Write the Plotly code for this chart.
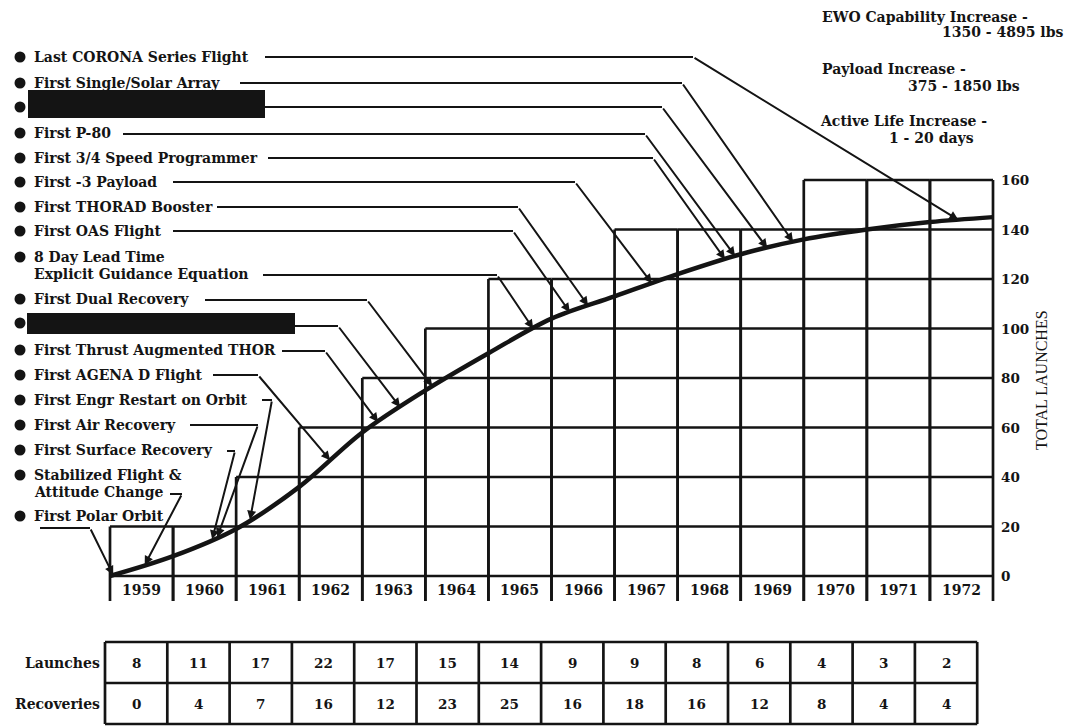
import numpy as np
import plotly.graph_objects as go

# ---------------- data ----------------
years = [1959, 1960, 1961, 1962, 1963, 1964, 1965, 1966, 1967, 1968, 1969, 1970, 1971, 1972]
launches = [8, 11, 17, 22, 17, 15, 14, 9, 9, 8, 6, 4, 3, 2]
recoveries = [0, 4, 7, 16, 12, 23, 25, 16, 18, 16, 12, 8, 4, 4]
column_tops = [20, 20, 40, 60, 80, 100, 120, 120, 140, 140, 140, 160, 160, 160]
y_ticks = [0, 20, 40, 60, 80, 100, 120, 140, 160]

event_labels = [
    ["Last CORONA Series Flight"],
    ["First Single/Solar Array"],
    None,  # redacted
    ["First P-80"],
    ["First 3/4 Speed Programmer"],
    ["First -3 Payload"],
    ["First THORAD Booster"],
    ["First OAS Flight"],
    ["8 Day Lead Time", "Explicit Guidance Equation"],
    ["First Dual Recovery"],
    None,  # redacted
    ["First Thrust Augmented THOR"],
    ["First AGENA D Flight"],
    ["First Engr Restart on Orbit"],
    ["First Air Recovery"],
    ["First Surface Recovery"],
    ["Stabilized Flight &", "Attitude Change"],
    ["First Polar Orbit"],
]
event_time = [1972.45, 1969.83, 1969.42, 1968.91, 1968.75, 1967.59, 1966.58, 1966.29,
              1965.71, 1964.11, 1963.60, 1963.25, 1962.49, 1961.22, 1960.70, 1960.62,
              1959.55, 1959.05]

side_notes = [
    ("EWO Capability Increase -", "1350 - 4895 lbs"),
    ("Payload Increase -", "375 - 1850 lbs"),
    ("Active Life Increase -", "1 - 20 days"),
]

# ---------------- layout helpers (pixel -> axis units) ----------------
W, H = 1073, 726
OFF = 8                      # page body margin of the html page
PX0, PX1 = 110, 993          # x of column 0 start / last column end
PY0, PY160 = 576, 180        # y of value 0 / value 160
U = (PX1 - PX0) / len(years)
V = (PY0 - PY160) / 160.0


def X(px):
    return (px - PX0) / U


def Y(py):
    return (PY0 - py) / V


INK = "#141414"
FONT_B = dict(family="DejaVu Serif", size=14, color=INK, weight="bold")
FONT_N = dict(family="DejaVu Serif", size=13.5, color=INK, weight="bold")

fig = go.Figure()

# ---------------- grid boxes ----------------
gx, gy = [], []
ybot = Y(601)
for i, top in enumerate(column_tops):
    for lvl in range(0, top + 1, 20):
        gx += [i, i + 1, None]
        gy += [lvl, lvl, None]
    gx += [i, i, None, i + 1, i + 1, None]
    gy += [ybot, top, None, ybot, top, None]
fig.add_trace(go.Scatter(x=gx, y=gy, mode="lines", line=dict(color=INK, width=2.7),
                         hoverinfo="skip", showlegend=False))

# ---------------- cumulative launches curve ----------------
cum = np.concatenate([[0], np.cumsum(launches)])
cx = np.arange(len(cum))
fig.add_trace(go.Scatter(x=cx, y=cum, mode="lines",
                         line=dict(color=INK, width=4.5, shape="spline", smoothing=1.0),
                         hoverinfo="skip", showlegend=False))

# ---------------- labels, bullets, leader lines ----------------
label_y = [57, 83, 107, 133, 158, 182, 207, 231, 257, 299, 323, 350, 375, 400, 425, 450, 475, 516]
leaders = [  # (start px, line y px, bend px)
    (265, 57, 693), (240, 83, 682), (265, 107, 662), (123, 134, 645), (268, 158, 653),
    (173, 182, 575), (217, 207, 518), (173, 231, 513), (263, 275, 497), (205, 300, 367),
    (295, 326, 338), (282, 351, 325), (213, 375, 258), (262, 400, 272), (190, 425, 258),
    (227, 451, 235), (170, 494, 182), (40, 528, 90),
]
redact_boxes = {2: (28, 90, 265, 118), 10: (27, 313, 295, 334)}

bx, by = [], []
lx, ly = [], []
for k, lab in enumerate(event_labels):
    yc = label_y[k]
    bx.append(X(20))
    by.append(Y(yc))
    if lab is not None:
        for j, line in enumerate(lab):
            fig.add_annotation(x=X(32), y=Y(yc + 17 * j), text=line, showarrow=False,
                               xanchor="left", yanchor="middle", font=FONT_B)
    s, ly_px, b = leaders[k]
    tx = event_time[k] - years[0]
    ty = float(np.interp(tx, cx, cum))
    lx += [X(s), X(b), None]
    ly += [Y(ly_px), Y(ly_px), None]
    fig.add_annotation(x=tx, y=ty, ax=X(b), ay=Y(ly_px), axref="x", ayref="y",
                       xref="x", yref="y", text="", showarrow=True, arrowhead=2,
                       arrowsize=0.9, arrowwidth=2, arrowcolor=INK, standoff=0)

fig.add_trace(go.Scatter(x=lx, y=ly, mode="lines", line=dict(color=INK, width=2),
                         hoverinfo="skip", showlegend=False))
fig.add_trace(go.Scatter(x=bx, y=by, mode="markers",
                         marker=dict(color=INK, size=11, symbol="circle"),
                         hoverinfo="skip", showlegend=False))

for k, (x0, y0, x1, y1) in redact_boxes.items():
    fig.add_shape(type="rect", x0=X(x0), x1=X(x1), y0=Y(y0), y1=Y(y1),
                  fillcolor=INK, line=dict(width=0), layer="above")

# ---------------- year labels & value ticks ----------------
for i, yr in enumerate(years):
    fig.add_annotation(x=i + 0.5, y=Y(590), text=str(yr), showarrow=False,
                       xanchor="center", yanchor="middle", font=FONT_B)
for v in y_ticks:
    fig.add_annotation(x=X(999), y=v, text=str(v), showarrow=False,
                       xanchor="left", yanchor="middle", font=FONT_N)
fig.add_annotation(x=X(1041), y=Y(380), text="TOTAL LAUNCHES", textangle=-90,
                   showarrow=False, xanchor="center", yanchor="middle",
                   font=dict(family="Liberation Serif", size=16, color=INK))

# ---------------- side notes ----------------
note_pos = [((820, 17), (940, 32)), ((820, 69), (906, 86)), ((818, 121), (887, 138))]
for (a, b), ((ax0, ay0), (bx0, by0)) in zip(side_notes, note_pos):
    fig.add_annotation(x=X(ax0), y=Y(ay0), text=a, showarrow=False, xanchor="left",
                       yanchor="middle", font=FONT_B)
    fig.add_annotation(x=X(bx0), y=Y(by0), text=b, showarrow=False, xanchor="left",
                       yanchor="middle", font=FONT_B)

# ---------------- table ----------------
T_LEFT, T_COL = 105, 62.3
T_TOP, T_MID, T_BOT = 642, 683, 724
ncol = len(years)
tx_l = X(T_LEFT)
tx_r = X(T_LEFT + T_COL * ncol)
tbx, tby = [], []
for yy in (T_TOP, T_MID, T_BOT):
    tbx += [tx_l, tx_r, None]
    tby += [Y(yy), Y(yy), None]
for c in range(ncol + 1):
    xx = X(T_LEFT + T_COL * c)
    tbx += [xx, xx, None]
    tby += [Y(T_TOP), Y(T_BOT), None]
fig.add_trace(go.Scatter(x=tbx, y=tby, mode="lines", line=dict(color=INK, width=2.7),
                         hoverinfo="skip", showlegend=False))
for c in range(ncol):
    xc = X(T_LEFT + T_COL * (c + 0.5))
    fig.add_annotation(x=xc, y=Y((T_TOP + T_MID) / 2), text=str(launches[c]), showarrow=False,
                       font=FONT_N)
    fig.add_annotation(x=xc, y=Y((T_MID + T_BOT) / 2), text=str(recoveries[c]), showarrow=False,
                       font=FONT_N)
fig.add_annotation(x=X(102), y=Y((T_TOP + T_MID) / 2), text="Launches", showarrow=False,
                   xanchor="right", font=FONT_B)
fig.add_annotation(x=X(102), y=Y((T_MID + T_BOT) / 2), text="Recoveries", showarrow=False,
                   xanchor="right", font=FONT_B)

fig.update_layout(
    width=W, height=H, margin=dict(l=0, r=0, t=0, b=0),
    paper_bgcolor="white", plot_bgcolor="white", showlegend=False,
    xaxis=dict(range=[X(OFF), X(OFF + W)], visible=False, fixedrange=True),
    yaxis=dict(range=[Y(OFF + H), Y(OFF)], visible=False, fixedrange=True),
)

fig.write_html("out.html")
